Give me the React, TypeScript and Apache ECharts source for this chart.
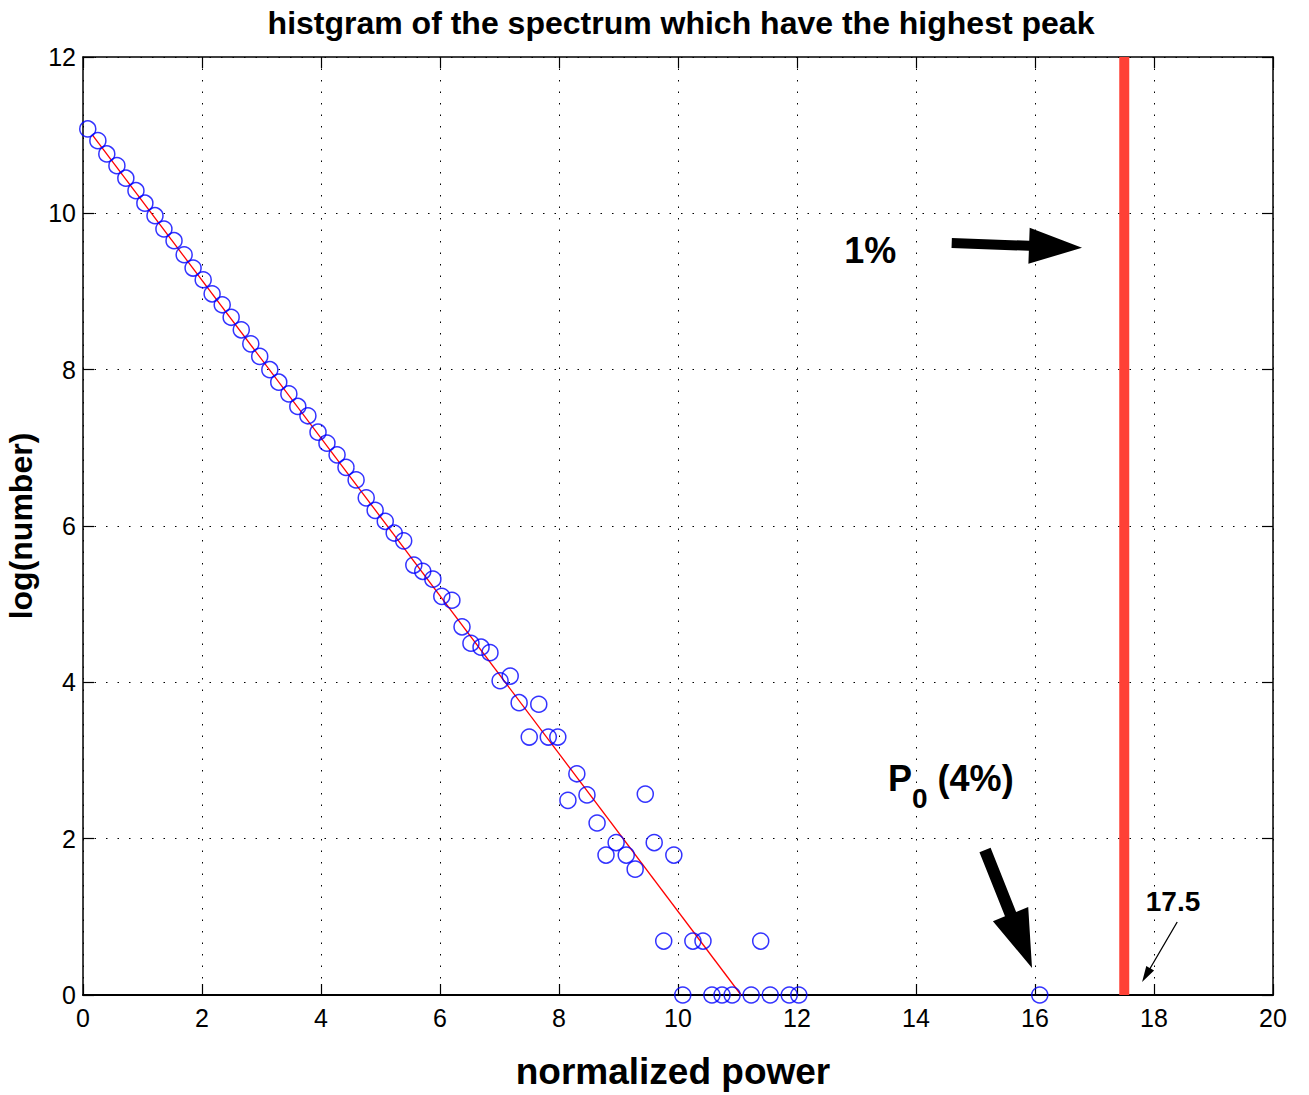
import React, { useEffect, useRef } from "react";
import * as echarts from "echarts";

const powerX = [
  0.08, 0.25, 0.4, 0.57, 0.72, 0.89, 1.04, 1.21, 1.36, 1.53, 1.7, 1.85, 2.02, 2.17, 2.34, 2.49,
  2.66, 2.82, 2.97, 3.14, 3.29, 3.46, 3.61, 3.78, 3.95, 4.1, 4.27, 4.42, 4.59, 4.76, 4.91, 5.08,
  5.23, 5.39, 5.56, 5.71, 5.88, 6.03, 6.2, 6.37, 6.52, 6.69, 6.84, 7.01, 7.18, 7.33, 7.5, 7.66,
  7.82, 7.98, 8.15, 8.3, 8.47, 8.64, 8.79, 8.96, 9.13, 9.28, 9.45, 9.6, 9.76, 9.93, 10.08, 10.25,
  10.42, 10.57, 10.74, 10.91, 11.23, 11.39, 11.55, 11.87, 12.03, 16.08,
];
const logCount = [
  11.08, 10.93, 10.76, 10.61, 10.45, 10.29, 10.13, 9.97, 9.8, 9.65, 9.47, 9.3, 9.15, 8.97, 8.83, 8.67,
  8.51, 8.33, 8.17, 8.0, 7.84, 7.69, 7.53, 7.41, 7.2, 7.06, 6.91, 6.75, 6.59, 6.36, 6.2, 6.06,
  5.91, 5.81, 5.5, 5.42, 5.32, 5.1, 5.05, 4.71, 4.5, 4.45, 4.38, 4.02, 4.08, 3.74, 3.3, 3.72,
  3.3, 3.3, 2.49, 2.83, 2.56, 2.2, 1.79, 1.95, 1.79, 1.61, 2.57, 1.95, 0.69, 1.79, 0, 0.69,
  0.69, 0, 0, 0, 0, 0.69, 0, 0, 0, 0,
];
const fitX = [0.16, 11.06];
const fitY = [11.0, 0];
const thresholdX = 17.5;
const thresholdY = [0, 12];
const xRange = [0, 20];
const yRange = [0, 12];

const FONT = "'Liberation Sans', Arial, Helvetica, sans-serif";

function arrowPolygon(p1: number[], p2: number[], shaftW: number, headL: number, headW: number) {
  const dx = p2[0] - p1[0];
  const dy = p2[1] - p1[1];
  const len = Math.sqrt(dx * dx + dy * dy);
  const ux = dx / len;
  const uy = dy / len;
  const nx = -uy;
  const ny = ux;
  const bx = p2[0] - ux * headL;
  const by = p2[1] - uy * headL;
  return [
    [p1[0] + (nx * shaftW) / 2, p1[1] + (ny * shaftW) / 2],
    [bx + (nx * shaftW) / 2, by + (ny * shaftW) / 2],
    [bx + (nx * headW) / 2, by + (ny * headW) / 2],
    [p2[0], p2[1]],
    [bx - (nx * headW) / 2, by - (ny * headW) / 2],
    [bx - (nx * shaftW) / 2, by - (ny * shaftW) / 2],
    [p1[0] - (nx * shaftW) / 2, p1[1] - (ny * shaftW) / 2],
  ];
}

export default function App() {
  const ref = useRef<HTMLDivElement>(null);
  useEffect(() => {
    document.body.style.margin = "0";
    if (!ref.current) return;
    const chart = echarts.init(ref.current, null, { renderer: "svg" });
    const tick = { show: true, inside: true, length: 11, lineStyle: { color: "#000", width: 1.2 } };
    const grid = { show: true, lineStyle: { color: "#000", width: 1, type: [1.5, 10] } };
    chart.setOption({
      animation: false,
      backgroundColor: "#fff",
      title: {
        text: "histgram of the spectrum which have the highest peak",
        left: 676,
        textAlign: "center",
        top: 2,
        textStyle: { fontFamily: FONT, fontSize: 32, fontWeight: "bold", color: "#000" },
      },
      grid: { left: 83, right: 36, top: 57, bottom: 100, containLabel: false, outerBoundsMode: "none" },
      xAxis: [
        {
          type: "value",
          min: xRange[0],
          max: xRange[1],
          interval: 2,
          position: "bottom",
          name: "normalized power",
          nameLocation: "middle",
          nameGap: 58,
          nameTextStyle: {
            fontFamily: FONT,
            fontSize: 37,
            fontWeight: "bold",
            color: "#000",
            padding: [0, 10, 0, 0],
          },
          axisLine: { show: true, onZero: false, lineStyle: { color: "#000", width: 2.2 } },
          axisTick: tick,
          axisLabel: { fontFamily: FONT, fontSize: 25, color: "#000", margin: 10 },
          splitLine: grid,
        },
        {
          type: "value",
          min: xRange[0],
          max: xRange[1],
          interval: 2,
          position: "top",
          axisLine: { show: true, onZero: false, lineStyle: { color: "#000", width: 1.5 } },
          axisTick: tick,
          axisLabel: { show: false },
          splitLine: { show: false },
        },
      ],
      yAxis: [
        {
          type: "value",
          min: yRange[0],
          max: yRange[1],
          interval: 2,
          position: "left",
          name: "log(number)",
          nameLocation: "middle",
          nameGap: 41,
          nameTextStyle: { fontFamily: FONT, fontSize: 32, fontWeight: "bold", color: "#000" },
          axisLine: { show: true, onZero: false, lineStyle: { color: "#000", width: 1.5 } },
          axisTick: tick,
          axisLabel: { fontFamily: FONT, fontSize: 25, color: "#000", margin: 7 },
          splitLine: grid,
        },
        {
          type: "value",
          min: yRange[0],
          max: yRange[1],
          interval: 2,
          position: "right",
          axisLine: { show: true, onZero: false, lineStyle: { color: "#000", width: 1.5 } },
          axisTick: tick,
          axisLabel: { show: false },
          splitLine: { show: false },
        },
      ],
      series: [
        {
          type: "line",
          data: fitX.map((x, i) => [x, fitY[i]]),
          showSymbol: false,
          lineStyle: { color: "#ff0000", width: 1.3 },
          z: 3,
        },
        {
          type: "scatter",
          data: powerX.map((x, i) => [x, logCount[i]]),
          symbol: "circle",
          symbolSize: 16,
          itemStyle: { color: "rgba(0,0,0,0)", borderColor: "#0000ff", borderWidth: 1.5 },
          z: 4,
        },
        {
          type: "line",
          data: thresholdY.map((y) => [thresholdX, y]),
          showSymbol: false,
          lineStyle: { color: "#ff4136", width: 10, cap: "butt" },
          z: 5,
        },
      ],
    });

    const px = (x: number, y: number) => chart.convertToPixel({ gridIndex: 0 }, [x, y]) as number[];

    const a1 = arrowPolygon(px(14.6, 9.62), px(16.79, 9.56), 10, 53, 36);
    const a2 = arrowPolygon(px(15.16, 1.855), px(15.95, 0.345), 12, 58, 38);
    const a3 = arrowPolygon(px(18.39, 0.934), px(17.8, 0.166), 1.3, 16, 9);
    const t1 = px(13.23, 9.53);
    const t2 = px(13.53, 2.67);
    const t3 = px(18.32, 1.19);

    chart.setOption({
      graphic: [
        { type: "polygon", shape: { points: a1 }, style: { fill: "#000" }, z: 10 },
        { type: "polygon", shape: { points: a2 }, style: { fill: "#000" }, z: 10 },
        { type: "polygon", shape: { points: a3 }, style: { fill: "#000" }, z: 10 },
        {
          type: "text",
          x: t1[0],
          y: t1[1],
          style: {
            text: "1%",
            fontFamily: FONT,
            fontSize: 36,
            fontWeight: "bold",
            fill: "#000",
            align: "center",
            verticalAlign: "middle",
          },
          z: 10,
        },
        {
          type: "text",
          x: t2[0],
          y: t2[1],
          style: {
            text: "{p|P}{s|0}{p| (4%)}",
            fontFamily: FONT,
            align: "left",
            verticalAlign: "middle",
            rich: {
              p: { fontFamily: FONT, fontSize: 36, fontWeight: "bold", fill: "#000", verticalAlign: "top" },
              s: {
                fontFamily: FONT,
                fontSize: 28,
                fontWeight: "bold",
                fill: "#000",
                padding: [24, 0, 0, 0],
                verticalAlign: "top",
              },
            },
          },
          z: 10,
        },
        {
          type: "text",
          x: t3[0],
          y: t3[1],
          style: {
            text: "17.5",
            fontFamily: FONT,
            fontSize: 28,
            fontWeight: "bold",
            fill: "#000",
            align: "center",
            verticalAlign: "middle",
          },
          z: 10,
        },
      ],
    });

    return () => chart.dispose();
  }, []);
  return <div ref={ref} style={{ width: 1309, height: 1095 }} />;
}
